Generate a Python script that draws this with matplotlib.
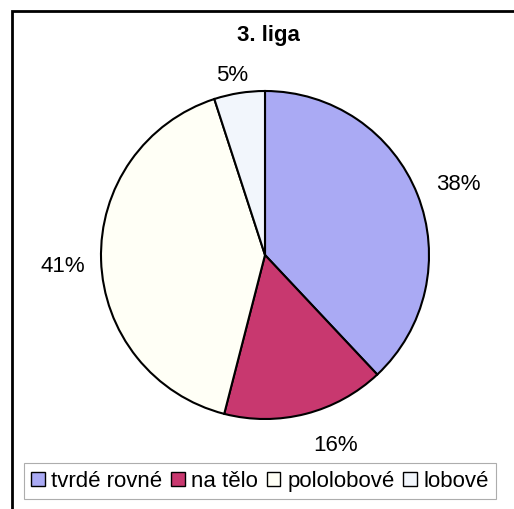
import matplotlib
matplotlib.use("Agg")
import matplotlib.pyplot as plt
from matplotlib.patches import Rectangle

# data
labels = ['tvrdé rovné', 'na tělo', 'pololobové', 'lobové']
values = [38, 16, 41, 5]
colors = ['#aaaaf4', '#c8386f', '#fffff6', '#f2f6fc']

plt.rcParams['font.family'] = ['Liberation Sans', 'DejaVu Sans']

fig = plt.figure(figsize=(5.14, 5.10), dpi=100)
ax = fig.add_axes([0, 0, 1, 1])

wedges, texts, autotexts = ax.pie(
    values, colors=colors, startangle=90, counterclock=False,
    center=(265, 254), radius=164, frame=True,
    autopct='%d%%', pctdistance=1.19,
    wedgeprops=dict(edgecolor='black', linewidth=1.5),
    textprops=dict(fontsize=16))
ax.set_xlim(0, 514)
ax.set_ylim(0, 510)
ax.set_aspect('equal')
ax.axis('off')

# nudge labels a little, as Excel places them
nudges = [(12, 0), (22, 0), (-7, -4), (-2, -12)]
for t, (dx, dy) in zip(autotexts, nudges):
    x, y = t.get_position()
    t.set_position((x + dx, y + dy))

# outer frame
ax.add_patch(Rectangle((12, -5), 520, 503, fill=False, edgecolor='black', linewidth=2))

ax.text(268, 474, '3. liga', ha='center', va='center', fontsize=16, fontweight='bold')

leg = ax.legend(wedges, labels, ncol=4, loc='center', bbox_to_anchor=(260 / 514, 28 / 510),
                fontsize=16, frameon=True, fancybox=False, edgecolor='#999999',
                handlelength=0.6, handleheight=0.6, handletextpad=0.3, columnspacing=0.4,
                borderpad=0.35, borderaxespad=0)
leg.get_frame().set_linewidth(0.8)
for h in leg.legend_handles:
    h.set_edgecolor('black')
    h.set_linewidth(1)

fig.savefig('out.png', dpi=100)
